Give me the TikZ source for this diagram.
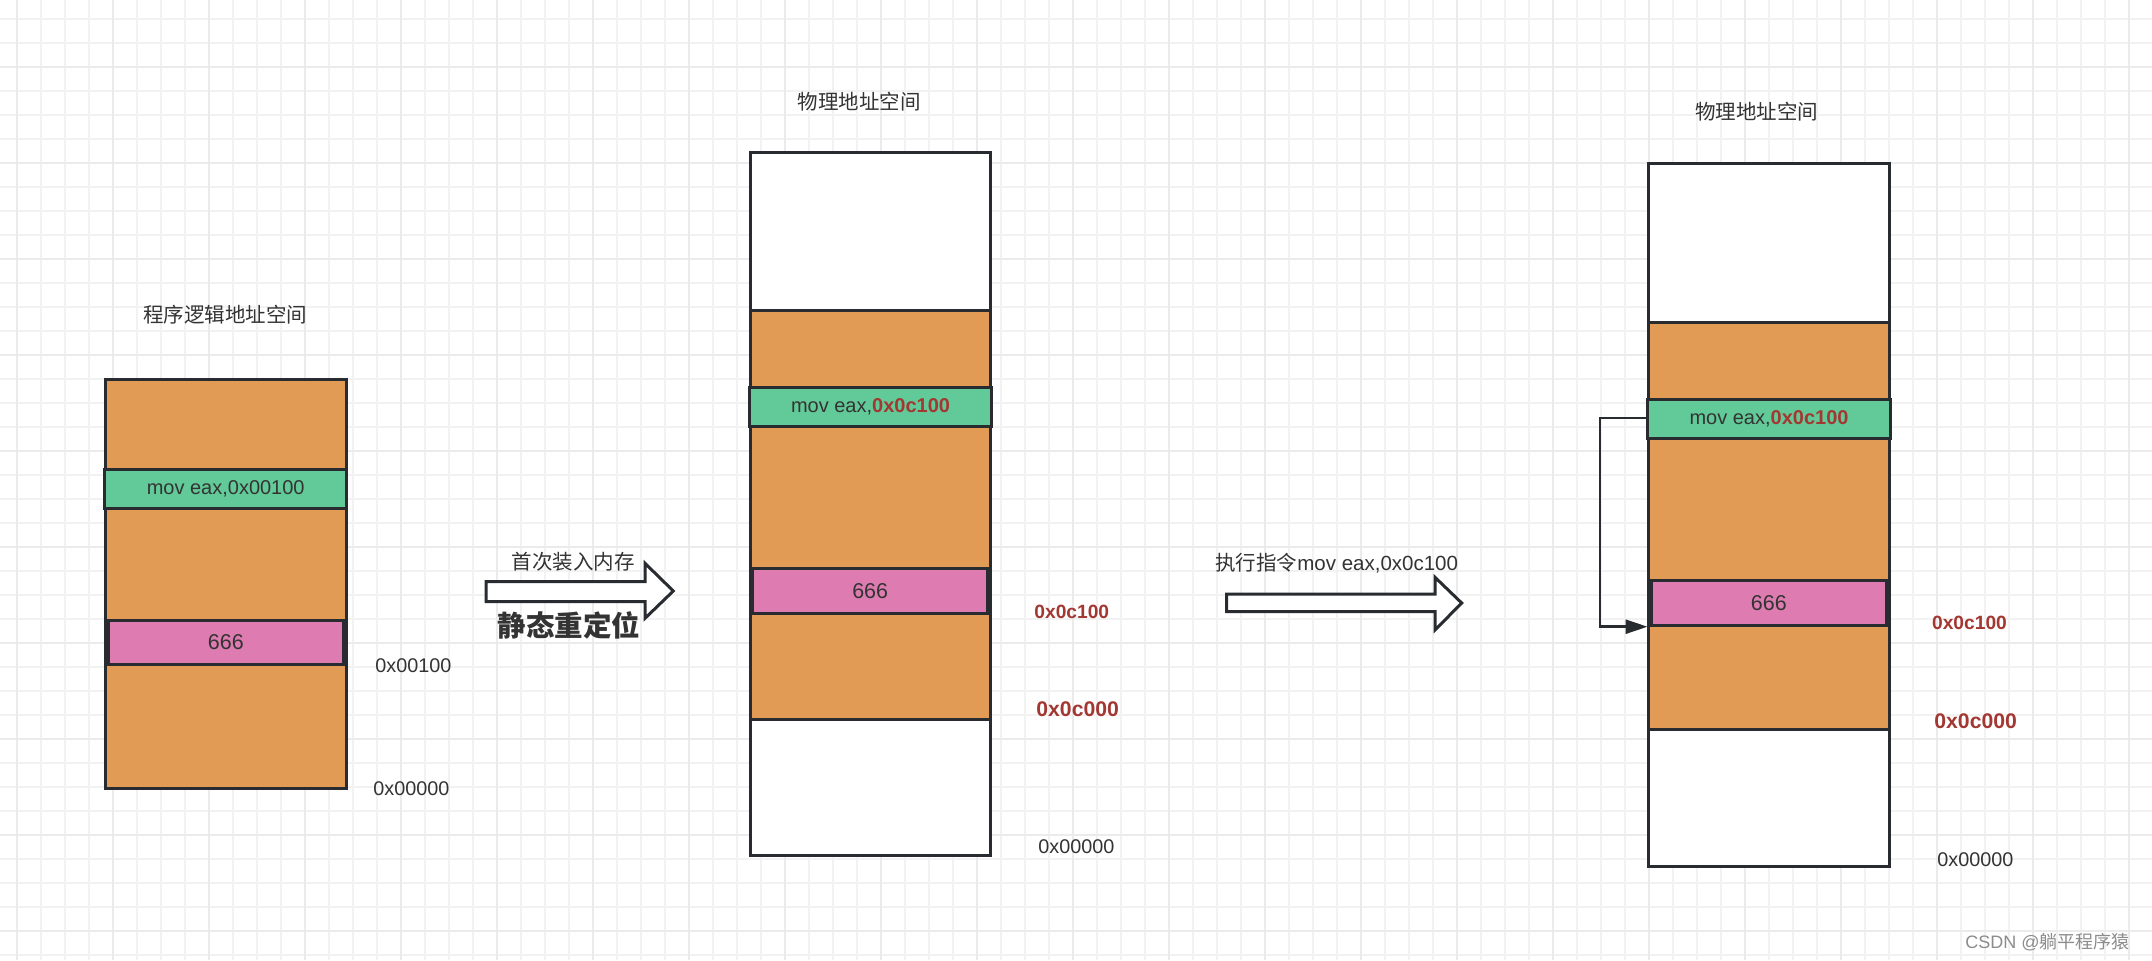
\documentclass[tikz,border=0pt]{standalone}
\usepackage{fontspec}
\setmainfont{Liberation Sans}
\newfontfamily\cjk{Noto Sans CJK SC}
\usetikzlibrary{arrows.meta}
\newcommand\fsz[1]{\fontsize{#1pt}{#1pt}\selectfont}
\definecolor{orng}{RGB}{225,155,85}
\definecolor{grn}{RGB}{98,202,152}
\definecolor{pnk}{RGB}{222,123,176}
\definecolor{edge}{RGB}{40,44,48}
\definecolor{txt}{RGB}{51,51,51}
\definecolor{redt}{RGB}{163,55,50}
\begin{document}
\begin{tikzpicture}[x=0.5pt,y=-0.5pt,
  gridminor/.style={draw=black!5,line width=0.9pt},
  gridmajor/.style={draw=black!8,line width=1.1pt},
  band/.style={draw=edge,line width=1.5pt,inner sep=0pt,outer sep=0pt},
  whitebox/.style={band,fill=white,minimum width=120.25pt,minimum height=351.5pt},
  orangebox/.style={band,fill=orng,minimum width=120.25pt,minimum height=204pt},
  greenband/.style={band,fill=grn,minimum width=121.25pt,minimum height=19.5pt,text=txt,font=\fsz{10}},
  pinkband/.style={band,fill=pnk,minimum width=117.5pt,minimum height=22.4pt,text=txt,font=\fsz{10.75}},
  title/.style={text=txt,font=\cjk\fsz{10.25},inner sep=0pt},
  addr/.style={text=txt,font=\fsz{9.9},inner sep=0pt,anchor=west},
  raddr/.style={text=redt,font=\bfseries\fsz{9.6},inner sep=0pt,anchor=west},
  raddrbig/.style={raddr,font=\bfseries\fsz{10.6}},
  blockarrow/.style={draw=edge,fill=white,line width=1.5pt},
  conn/.style={draw=edge,line width=1.3pt,-{Triangle[length=11pt,width=7pt]}}
]
% background and grid
\fill[white] (0,0) rectangle (2152,960);
\useasboundingbox (0,0) rectangle (2152,960);
\foreach \i in {0,...,88} \draw[gridminor] ({16.7+24*\i},0) -- ++(0,960);
\foreach \j in {0,...,39} \draw[gridminor] (0,{19.3+24*\j}) -- ++(2152,0);
\foreach \i in {0,4,...,88} \draw[gridmajor] ({16.7+24*\i},0) -- ++(0,960);
\foreach \j in {2,6,...,38} \draw[gridmajor] (0,{19.3+24*\j}) -- ++(2152,0);

% left: logical address space
\node[title] (tL) at (225,315) {程序逻辑地址空间};
\node[orangebox,minimum height=204.5pt] (oL) at (225.85,583.8) {};
\node[greenband] (gL) at (225.7,488.8) {mov eax,0x00100};
\node[pinkband,minimum height=22.15pt] (pL) at (225.8,642.15) {666};
\node[addr] (aL1) at (375,665.7) {0x00100};
\node[addr] (aL0) at (373,789) {0x00000};

% arrow 1
\path[blockarrow] (486,581.7) -- (645,581.7) -- (645,563.3) -- (673.3,591) -- (645,618.3) -- (645,601.7) -- (486,601.7) -- cycle;
\node[title] (s1) at (573.3,561.7) {首次装入内存};
\node[text=txt,font=\cjk\bfseries\fsz{14.25},inner sep=0pt] (s2) at (569.2,625) {静态重定位};

% middle: physical address space
\node[title] (tM) at (859.2,101.7) {物理地址空间};
\node[whitebox,minimum height=351.4pt] (wM) at (870.35,503.9) {};
\node[orangebox,minimum height=204.55pt] (oM) at (870.35,515.05) {};
\node[greenband] (gM) at (870.5,406.9) {mov eax,{\color{redt}\bfseries 0x0c100}};
\node[pinkband] (pM) at (870.2,590.85) {666};
\node[raddr] (aM1) at (1034,612) {0x0c100};
\node[raddrbig] (aM2) at (1036,709) {0x0c000};
\node[addr] (aM0) at (1038,847) {0x00000};

% arrow 2
\path[blockarrow] (1226.7,594) -- (1435,594) -- (1435,577.3) -- (1461.7,603) -- (1435,630) -- (1435,611.7) -- (1226.7,611.7) -- cycle;
\node[text=txt,font=\fsz{10.25},inner sep=0pt] (s3) at (1336.7,562.7) {{\cjk 执行指令}mov eax,0x0c100};

% right: physical address space
\node[title] (tR) at (1756.7,112) {物理地址空间};
\node[whitebox,minimum height=351.75pt] (wR) at (1769.15,514.75) {};
\node[orangebox,minimum height=203.65pt] (oR) at (1769.15,525.65) {};
\node[greenband] (gR) at (1769,419.1) {mov eax,{\color{redt}\bfseries 0x0c100}};
\node[pinkband] (pR) at (1768.85,603.25) {666};
\node[raddr] (aR1) at (1931.7,623.3) {0x0c100};
\node[raddrbig] (aR2) at (1934,721) {0x0c000};
\node[addr] (aR0) at (1937,859.3) {0x00000};

% connector
\coordinate (bend) at (1600,418);
\coordinate (tgt) at (1647.5,626.7);
\draw[conn] (gR.west |- bend) -- (bend) |- (tgt);

% watermark
\node[anchor=west,inner sep=0pt,text=black!45,font=\fsz{9}] (wm) at (1965,941.7) {CSDN @{\cjk 躺平程序猿}};
\end{tikzpicture}
\end{document}
